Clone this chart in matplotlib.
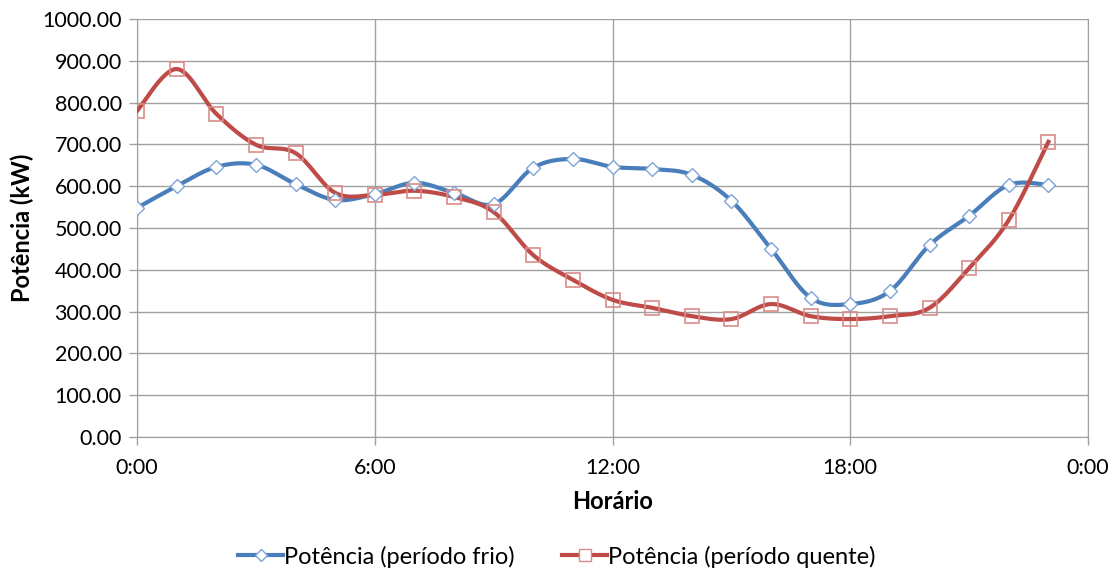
import numpy as np
import matplotlib.pyplot as plt
from matplotlib.ticker import FixedLocator, FuncFormatter

plt.rcParams['font.family'] = ['Lato', 'DejaVu Sans']

horas = list(range(24))
frio = [548, 600, 646, 651, 605, 567, 581, 608, 584, 557, 644, 665,
        646, 641, 627, 565, 450, 333, 318, 349, 459, 529, 603, 603]
quente = [780, 880, 773, 699, 679, 584, 579, 589, 574, 538, 435, 376,
          328, 309, 289, 282, 318, 289, 282, 289, 309, 404, 519, 706]


def suavizar(x, y, n=30):
    # curva suave estilo Excel (bezier com pontos de controle catmull-rom)
    x = np.asarray(x, float)
    y = np.asarray(y, float)
    xs, ys = [], []
    t = np.linspace(0, 1, n)
    for i in range(len(x) - 1):
        p0 = np.array([x[max(i - 1, 0)], y[max(i - 1, 0)]])
        p1 = np.array([x[i], y[i]])
        p2 = np.array([x[i + 1], y[i + 1]])
        p3 = np.array([x[min(i + 2, len(x) - 1)], y[min(i + 2, len(x) - 1)]])
        c1 = p1 + (p2 - p0) / 6
        c2 = p2 - (p3 - p1) / 6
        b = ((1 - t) ** 3)[:, None] * p1 + (3 * (1 - t) ** 2 * t)[:, None] * c1 \
            + (3 * (1 - t) * t ** 2)[:, None] * c2 + (t ** 3)[:, None] * p2
        xs.extend(b[:, 0])
        ys.extend(b[:, 1])
    return np.array(xs), np.array(ys)


fig = plt.figure(figsize=(11.14, 5.72), dpi=100)
ax = fig.add_axes([0.123, 0.236, 0.8537, 0.731])

azul = '#4a7ebb'
vermelho = '#be4b48'

xf, yf = suavizar(horas, frio)
xq, yq = suavizar(horas, quente)
ax.plot(xf, yf, color=azul, lw=3, zorder=3)
ax.plot(horas, frio, ls='none', marker='D', ms=7, mfc='white', mec='#7fa4d6',
        mew=1, zorder=4)
ax.plot(xq, yq, color=vermelho, lw=3, zorder=3)
ax.plot(horas, quente, ls='none', marker='s', ms=10, mfc='none', mec='#d98c8a',
        mew=1.2, zorder=4)

# legenda manual com linha + marcador
h1, = ax.plot([], [], color=azul, lw=3, marker='D', ms=6, mfc='white', mec='#7fa4d6')
h2, = ax.plot([], [], color=vermelho, lw=3, marker='s', ms=8, mfc='white', mec='#d98c8a')
fig.legend([h1, h2], ['Potência (período frio)', 'Potência (período quente)'],
           loc='center', bbox_to_anchor=(0.5, 0.027), ncol=2, frameon=False,
           fontsize=17, handlelength=1.9, handletextpad=0.05, columnspacing=2.0)

ax.set_xlim(0, 24)
ax.set_ylim(0, 1000)
ax.xaxis.set_major_locator(FixedLocator([0, 6, 12, 18, 24]))
ax.xaxis.set_major_formatter(FuncFormatter(lambda v, p: '%d:00' % (v % 24)))
ax.set_yticks(np.arange(0, 1001, 100))
ax.yaxis.set_major_formatter(FuncFormatter(lambda v, p: '%.2f' % v))
ax.grid(True, color='#a0a0a0', lw=1)
ax.set_axisbelow(True)
for s in ['top']:
    ax.spines[s].set_visible(False)
for s in ['left', 'bottom', 'right']:
    ax.spines[s].set_color('#a0a0a0')
ax.tick_params(axis='both', colors='#a0a0a0', labelcolor='black', labelsize=15.5,
               length=6, width=1)
ax.tick_params(axis='x', pad=9)
ax.tick_params(axis='y', pad=5)

ax.set_xlabel('Horário', fontsize=17, fontweight='bold', labelpad=9)
ax.set_ylabel('Potência (kW)', fontsize=17, fontweight='bold', labelpad=6)

fig.savefig('out.png', dpi=100)
